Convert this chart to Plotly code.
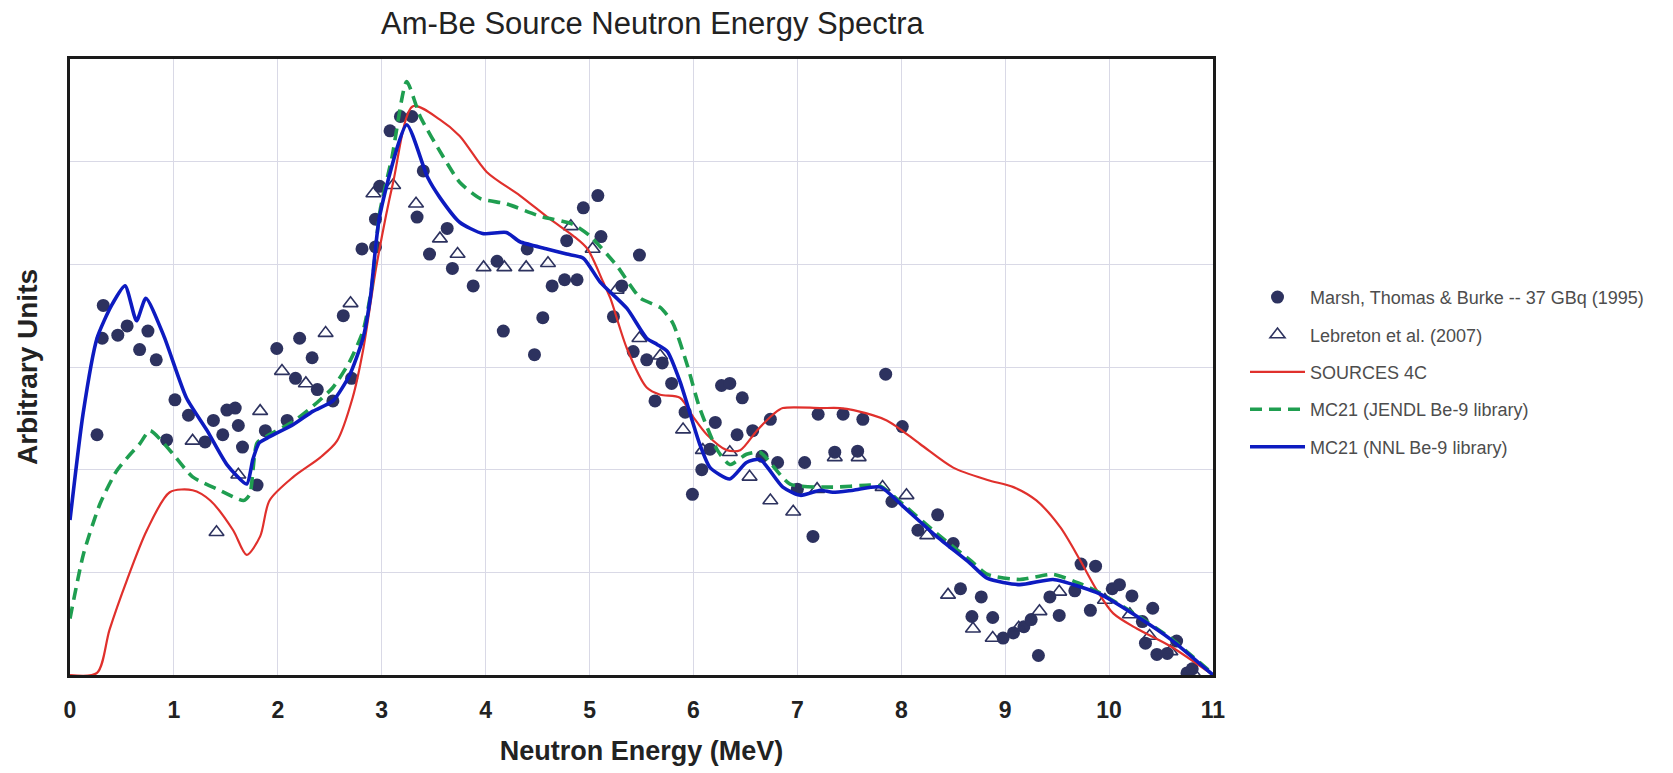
import plotly.graph_objects as go

# ---------------- data ----------------
red_x = [0, 0.26, 0.38, 0.55, 0.74, 0.96, 1.18, 1.35, 1.57, 1.70, 1.83, 1.92, 2.15, 2.41, 2.57, 2.72, 2.82,
         2.95, 3.11, 3.30, 3.56, 3.75, 4.01, 4.33, 4.62, 4.84, 4.98, 5.13, 5.20, 5.36, 5.55, 5.68, 5.87, 6.0,
         6.13, 6.32, 6.45, 6.61, 6.77, 6.86, 7.22, 7.41, 7.54, 7.86, 8.18, 8.5, 8.83, 9.08, 9.3, 9.53, 9.72,
         9.88, 10.04, 10.27, 10.59, 11.0]
red_y = [0, 0.02, 0.44, 0.93, 1.41, 1.78, 1.80, 1.70, 1.41, 1.17, 1.35, 1.70, 1.93, 2.12, 2.28, 2.70, 3.16,
         3.99, 4.80, 5.54, 5.41, 5.25, 4.90, 4.67, 4.44, 4.28, 4.15, 3.83, 3.67, 3.18, 2.80, 2.73, 2.70, 2.51,
         2.34, 2.19, 2.19, 2.38, 2.54, 2.60, 2.60, 2.60, 2.58, 2.48, 2.25, 2.02, 1.90, 1.83, 1.70, 1.44, 1.12,
         0.83, 0.60, 0.45, 0.28, 0.0]

green_x = [0, 0.13, 0.29, 0.45, 0.58, 0.67, 0.77, 0.96, 1.18, 1.44, 1.67, 1.73, 1.80, 1.9, 2.15, 2.34, 2.53,
           2.69, 2.82, 2.90, 2.98, 3.10, 3.24, 3.37, 3.59, 3.75, 3.95, 4.2, 4.52, 4.84, 5.0, 5.26, 5.49, 5.68,
           5.80, 5.94, 6.06, 6.23, 6.35, 6.51, 6.64, 6.93, 7.34, 7.70, 7.80, 8.02, 8.34, 8.66, 8.83, 9.14,
           9.46, 9.72, 9.91, 10.27, 10.59, 11.0]
green_y = [0.55, 1.18, 1.67, 1.99, 2.15, 2.25, 2.38, 2.19, 1.93, 1.80, 1.70, 1.76, 2.26, 2.33, 2.47, 2.62, 2.80,
           3.05, 3.35, 3.75, 4.50, 5.05, 5.78, 5.44, 5.05, 4.80, 4.64, 4.59, 4.47, 4.39, 4.28, 3.99, 3.67, 3.58,
           3.43, 3.02, 2.60, 2.19, 2.05, 2.15, 2.17, 1.86, 1.83, 1.85, 1.84, 1.66, 1.38, 1.12, 0.98, 0.93,
           0.98, 0.89, 0.80, 0.58, 0.36, 0.01]

blue_x = [0, 0.125, 0.26, 0.40, 0.53, 0.64, 0.73, 0.90, 1.12, 1.32, 1.51, 1.70, 1.76, 1.82, 1.9, 2.15, 2.34,
          2.53, 2.69, 2.82, 2.89, 2.98, 3.24, 3.44, 3.56, 3.75, 3.97, 4.2, 4.33, 4.59, 4.78, 4.94, 5.10, 5.36,
          5.55, 5.65, 5.75, 5.87, 6.06, 6.16, 6.35, 6.51, 6.64, 6.86, 7.03, 7.22, 7.34, 7.54, 7.80, 8.02, 8.34,
          8.66, 8.83, 9.14, 9.46, 9.72, 9.91, 10.27, 10.59, 11.0]
blue_y = [1.51, 2.54, 3.28, 3.60, 3.79, 3.45, 3.67, 3.31, 2.70, 2.38, 2.05, 1.86, 2.10, 2.26, 2.31, 2.44, 2.57,
          2.67, 2.92, 3.28, 3.67, 4.47, 5.36, 4.85, 4.65, 4.41, 4.30, 4.31, 4.22, 4.15, 4.10, 4.06, 3.83, 3.57,
          3.28, 3.22, 3.15, 2.86, 2.25, 2.02, 1.91, 2.07, 2.10, 1.83, 1.75, 1.80, 1.78, 1.80, 1.83, 1.64, 1.35,
          1.09, 0.94, 0.88, 0.93, 0.86, 0.79, 0.57, 0.35, 0.0]

marsh_x = [0.26, 0.32, 0.31, 0.46, 0.55, 0.67, 0.75, 0.83, 0.93, 1.01, 1.14, 1.30, 1.38, 1.47, 1.51, 1.59, 1.62,
           1.66, 1.80, 1.88, 1.99, 2.09, 2.17, 2.21, 2.33, 2.38, 2.53, 2.63, 2.71, 2.81, 2.94, 2.94, 2.98, 3.08,
           3.18, 3.29, 3.34, 3.40, 3.46, 3.63, 3.68, 3.88, 4.11, 4.17, 4.40, 4.47, 4.55, 4.64, 4.76, 4.88, 4.78,
           4.94, 5.08, 5.11, 5.23, 5.31, 5.48, 5.42, 5.55, 5.70, 5.63, 5.79, 5.92, 5.99, 6.08, 6.16, 6.21, 6.27,
           6.35, 6.42, 6.47, 6.57, 6.66, 6.74, 6.81, 7.00, 7.07, 7.15, 7.20, 7.36, 7.44, 7.58, 7.63, 7.85, 7.91,
           8.01, 8.16, 8.35, 8.50, 8.57, 8.68, 8.77, 8.88, 8.98, 9.08, 9.18, 9.25, 9.32, 9.43, 9.52, 9.67, 9.73,
           9.82, 9.87, 10.03, 10.10, 10.22, 10.32, 10.35, 10.42, 10.46, 10.56, 10.65, 10.75, 10.80]
marsh_y = [2.34, 3.60, 3.28, 3.31, 3.40, 3.17, 3.35, 3.07, 2.29, 2.68, 2.53, 2.27, 2.48, 2.34, 2.58, 2.60, 2.43,
           2.22, 1.85, 2.38, 3.18, 2.48, 2.89, 3.28, 3.09, 2.78, 2.67, 3.50, 2.89, 4.15, 4.17, 4.44, 4.76, 5.30,
           5.44, 5.44, 4.46, 4.91, 4.10, 4.35, 3.96, 3.79, 4.03, 3.35, 4.15, 3.12, 3.48, 3.79, 3.85, 3.85, 4.23,
           4.55, 4.67, 4.27, 3.49, 3.79, 4.09, 3.15, 3.07, 3.04, 2.67, 2.84, 2.56, 1.76, 2.00, 2.20, 2.46, 2.82,
           2.84, 2.34, 2.70, 2.38, 2.13, 2.49, 2.07, 1.81, 2.07, 1.35, 2.54, 2.17, 2.54, 2.18, 2.49, 2.93, 1.69,
           2.42, 1.41, 1.56, 1.28, 0.84, 0.57, 0.76, 0.56, 0.36, 0.41, 0.47, 0.54, 0.19, 0.76, 0.58, 0.82, 1.08,
           0.63, 1.06, 0.84, 0.88, 0.77, 0.52, 0.31, 0.65, 0.20, 0.21, 0.33, 0.02, 0.06]

leb_x = [1.18, 1.41, 1.62, 1.83, 2.04, 2.27, 2.46, 2.70, 2.92, 3.11, 3.33, 3.56, 3.73, 3.98, 4.18, 4.39, 4.60,
         4.82, 5.03, 5.26, 5.48, 5.68, 5.90, 6.09, 6.35, 6.54, 6.74, 6.96, 7.19, 7.36, 7.59, 7.82, 8.05, 8.25,
         8.45, 8.69, 8.88, 9.13, 9.33, 9.52, 9.96, 10.20, 10.39, 10.59, 10.81]
leb_y = [2.28, 1.39, 1.95, 2.57, 2.96, 2.84, 3.33, 3.62, 4.69, 4.77, 4.59, 4.25, 4.10, 3.97, 3.97, 3.97, 4.01,
         4.37, 4.15, 3.75, 3.28, 3.11, 2.39, 2.19, 2.17, 1.93, 1.70, 1.59, 1.81, 2.12, 2.12, 1.83, 1.75, 1.36,
         0.78, 0.45, 0.36, 0.46, 0.62, 0.81, 0.73, 0.59, 0.38, 0.23, 0.02]

x_ticks = list(range(0, 12))

NAVY = "#2d325f"
FONT = "Liberation Sans, Arial, sans-serif"

fig = go.Figure()
fig.add_trace(go.Scatter(x=marsh_x, y=marsh_y, mode="markers", name="Marsh, Thomas & Burke -- 37 GBq (1995)",
                         legendgroup="a",
                         marker=dict(symbol="circle", size=13, color=NAVY, line=dict(width=0))))
fig.add_trace(go.Scatter(x=leb_x, y=leb_y, mode="markers", name="Lebreton et al. (2007)", legendgroup="b",
                         marker=dict(symbol="triangle-up-open", size=13, color=NAVY, line=dict(width=1.6))))
fig.add_trace(go.Scatter(x=red_x, y=red_y, mode="lines", name="SOURCES 4C", legendgroup="c",
                         line=dict(color="#e0302c", width=2.2, shape="spline", smoothing=0.8)))
fig.add_trace(go.Scatter(x=green_x, y=green_y, mode="lines", name="MC21 (JENDL Be-9 library)", legendgroup="d",
                         line=dict(color="#1f9e50", width=3.6, dash="12px,7px", shape="spline", smoothing=0.6)))
fig.add_trace(go.Scatter(x=blue_x, y=blue_y, mode="lines", name="MC21 (NNL Be-9 library)", legendgroup="e",
                         line=dict(color="#0d1bc0", width=3.6, shape="spline", smoothing=0.6)))

fig.update_layout(
    width=1673, height=773,
    margin=dict(l=70, r=460, t=59, b=94),
    paper_bgcolor="white", plot_bgcolor="white",
    font=dict(family=FONT, color="#222"),
    title=dict(text="Am-Be Source Neutron Energy Spectra", x=0.39, xanchor="center",
               y=0.970, yanchor="middle", yref="container",
               font=dict(family=FONT, size=31, color="#222")),
    showlegend=True,
    legend=dict(x=1.028, xanchor="left", y=0.643, yanchor="top",
                font=dict(family=FONT, size=18, color="#4d4d4d"),
                itemwidth=55, tracegroupgap=11, traceorder="grouped",
                bgcolor="rgba(0,0,0,0)", borderwidth=0),
    xaxis=dict(range=[0, 11], tickmode="array", tickvals=x_ticks, ticktext=[str(v) for v in x_ticks],
               showgrid=True, gridcolor="#d9d9e6", gridwidth=1, zeroline=False,
               showline=True, linecolor="#1a1a1a", linewidth=2.5, mirror=True,
               ticks="", ticklabelstandoff=13,
               tickfont=dict(family=FONT, size=23, color="#222", weight="bold"),
               title=dict(text="<b>Neutron Energy (MeV)</b>", standoff=19,
                          font=dict(family=FONT, size=27, color="#222"))),
    yaxis=dict(range=[0, 6], dtick=1, showticklabels=False,
               showgrid=True, gridcolor="#d9d9e6", gridwidth=1, zeroline=False,
               showline=True, linecolor="#1a1a1a", linewidth=2.5, mirror=True, ticks="",
               title=dict(text="<b>Arbitrary Units</b>", standoff=22,
                          font=dict(family=FONT, size=28, color="#222"))),
)

fig.write_html("out.html")
